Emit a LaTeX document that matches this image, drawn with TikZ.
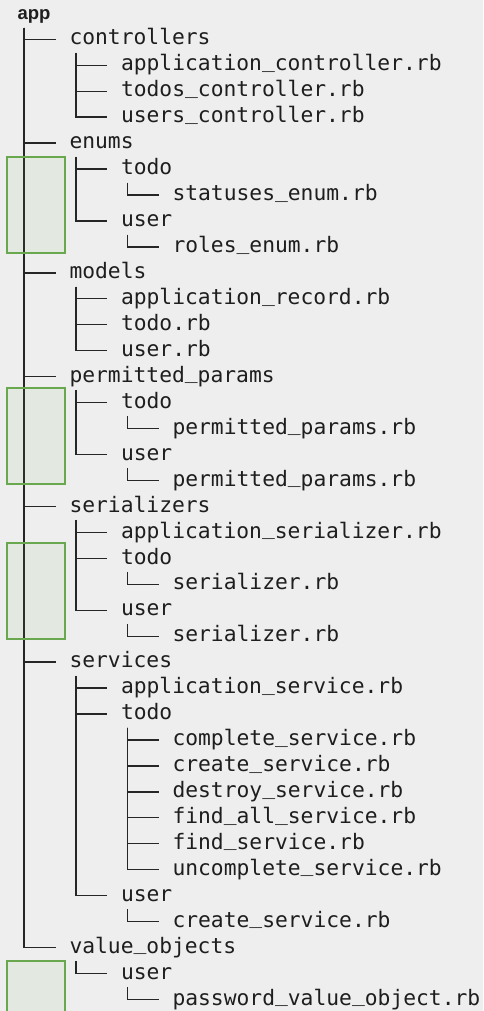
\documentclass[tikz,border=0pt]{standalone}
\usepackage{fontspec}
\usetikzlibrary{calc}
\newfontfamily\treefont{DejaVu Sans Mono}
\newfontfamily\rootfont{Liberation Sans}
\definecolor{bgc}{HTML}{EEEEEE}
\definecolor{inkc}{HTML}{1E1E1E}
\definecolor{linec}{HTML}{262626}
\definecolor{boxc}{HTML}{6AA84F}
\newcommand\rowat[1]{45+(#1-2)*25.95}
\newcommand\us{\raisebox{3.5pt}{\_}}
\newcommand\treeedge[2]{\draw[treeline] ($(#1.base west)+(6.5,8)$) |- ($(#2.base west)+(-14,-5.7)$);}
\tikzset{
  entry/.style={anchor=base west, inner sep=0pt, outer sep=0pt, text=inkc,
    font=\treefont\fontsize{21.3}{26}\selectfont},
  rootentry/.style={anchor=base west, inner sep=0pt, outer sep=0pt, text=inkc,
    font=\rootfont\bfseries\fontsize{18.5}{22}\selectfont},
  treeline/.style={draw=linec, line width=1.3pt},
  hilite/.style={draw=boxc, line width=1.6pt, fill=boxc, fill opacity=0.08},
}
\begin{document}
\begin{tikzpicture}[x=1pt,y=-1pt]
\fill[bgc] (0,0) rectangle (483,1011);
\useasboundingbox (0,0) rectangle (483,1011);
% level x origins
\def\LvA{69.5}
\def\LvB{121.0}
\def\LvC{172.5}
\node[rootentry] (n1) at (17.6,20) {app};
\node[entry] (n2) at (\LvA,{\rowat{2}}) {controllers};
\node[entry] (n3) at (\LvB,{\rowat{3}}) {application\us controller.rb};
\node[entry] (n4) at (\LvB,{\rowat{4}}) {todos\us controller.rb};
\node[entry] (n5) at (\LvB,{\rowat{5}}) {users\us controller.rb};
\node[entry] (n6) at (\LvA,{\rowat{6}}) {enums};
\node[entry] (n7) at (\LvB,{\rowat{7}}) {todo};
\node[entry] (n8) at (\LvC,{\rowat{8}}) {statuses\us enum.rb};
\node[entry] (n9) at (\LvB,{\rowat{9}}) {user};
\node[entry] (n10) at (\LvC,{\rowat{10}}) {roles\us enum.rb};
\node[entry] (n11) at (\LvA,{\rowat{11}}) {models};
\node[entry] (n12) at (\LvB,{\rowat{12}}) {application\us record.rb};
\node[entry] (n13) at (\LvB,{\rowat{13}}) {todo.rb};
\node[entry] (n14) at (\LvB,{\rowat{14}}) {user.rb};
\node[entry] (n15) at (\LvA,{\rowat{15}}) {permitted\us params};
\node[entry] (n16) at (\LvB,{\rowat{16}}) {todo};
\node[entry] (n17) at (\LvC,{\rowat{17}}) {permitted\us params.rb};
\node[entry] (n18) at (\LvB,{\rowat{18}}) {user};
\node[entry] (n19) at (\LvC,{\rowat{19}}) {permitted\us params.rb};
\node[entry] (n20) at (\LvA,{\rowat{20}}) {serializers};
\node[entry] (n21) at (\LvB,{\rowat{21}}) {application\us serializer.rb};
\node[entry] (n22) at (\LvB,{\rowat{22}}) {todo};
\node[entry] (n23) at (\LvC,{\rowat{23}}) {serializer.rb};
\node[entry] (n24) at (\LvB,{\rowat{24}}) {user};
\node[entry] (n25) at (\LvC,{\rowat{25}}) {serializer.rb};
\node[entry] (n26) at (\LvA,{\rowat{26}}) {services};
\node[entry] (n27) at (\LvB,{\rowat{27}}) {application\us service.rb};
\node[entry] (n28) at (\LvB,{\rowat{28}}) {todo};
\node[entry] (n29) at (\LvC,{\rowat{29}}) {complete\us service.rb};
\node[entry] (n30) at (\LvC,{\rowat{30}}) {create\us service.rb};
\node[entry] (n31) at (\LvC,{\rowat{31}}) {destroy\us service.rb};
\node[entry] (n32) at (\LvC,{\rowat{32}}) {find\us all\us service.rb};
\node[entry] (n33) at (\LvC,{\rowat{33}}) {find\us service.rb};
\node[entry] (n34) at (\LvC,{\rowat{34}}) {uncomplete\us service.rb};
\node[entry] (n35) at (\LvB,{\rowat{35}}) {user};
\node[entry] (n36) at (\LvC,{\rowat{36}}) {create\us service.rb};
\node[entry] (n37) at (\LvA,{\rowat{37}}) {value\us objects};
\node[entry] (n38) at (\LvB,{\rowat{38}}) {user};
\node[entry] (n39) at (\LvC,{\rowat{39}}) {password\us value\us object.rb};
% connectors
\foreach \c in {2,6,11,15,20,26,37} {\treeedge{n1}{n\c}}
\foreach \c in {3,4,5} {\treeedge{n2}{n\c}}
\foreach \c in {7,9} {\treeedge{n6}{n\c}}
\treeedge{n7}{n8}
\treeedge{n9}{n10}
\foreach \c in {12,13,14} {\treeedge{n11}{n\c}}
\foreach \c in {16,18} {\treeedge{n15}{n\c}}
\treeedge{n16}{n17}
\treeedge{n18}{n19}
\foreach \c in {21,22,24} {\treeedge{n20}{n\c}}
\treeedge{n22}{n23}
\treeedge{n24}{n25}
\foreach \c in {27,28,35} {\treeedge{n26}{n\c}}
\foreach \c in {29,30,31,32,33,34} {\treeedge{n28}{n\c}}
\treeedge{n35}{n36}
\treeedge{n37}{n38}
\treeedge{n38}{n39}
% highlight boxes
\draw[hilite] (7,157) rectangle (65,253);
\draw[hilite] (7,388) rectangle (65,484);
\draw[hilite] (7,543) rectangle (65,639);
\draw[hilite] (7,961) rectangle (65,1020);
\end{tikzpicture}
\end{document}
